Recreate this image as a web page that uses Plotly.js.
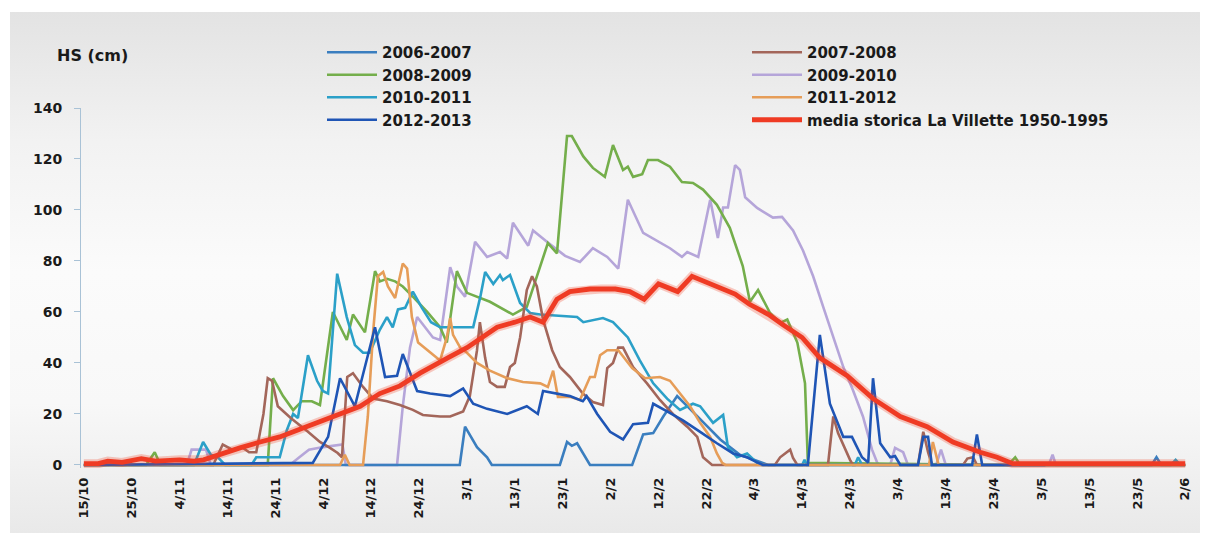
<!DOCTYPE html>
<html>
<head>
<meta charset="utf-8">
<script src="https://cdn.plot.ly/plotly-3.0.1.min.js"></script>
<style>
  html, body { margin: 0; padding: 0; background: #ffffff; }
  #bg { position: absolute; left: 10px; top: 12px; width: 1190px; height: 521px;
        background: linear-gradient(to bottom, #e3e3e3 0%, #f2f2f2 25%, #fbfbfb 50%, #f8f8f8 75%, #e9e9e9 100%); }
  #chart { position: absolute; left: 0; top: 0; width: 1205px; height: 533px; }
</style>
</head>
<body>
<div id="bg"></div>
<div id="chart"></div>
<script>
// x = days since 15 October (season day), y = snow depth HS in cm
const tickLabels = ["15/10","25/10","4/11","14/11","24/11","4/12","14/12","24/12","3/1","13/1","23/1","2/2","12/2","22/2","4/3","14/3","24/3","3/4","13/4","23/4","3/5","13/5","23/5","2/6"];

const days0607 = [0, 78.5, 79.6, 82.1, 84.2, 85.2, 99.4, 100.9, 101.9, 103, 105.7, 114.5, 116.8, 118.9, 121, 123.9, 128.7, 132.9, 137, 141.2, 142.9, 223, 224, 225, 230];
const hs0607   = [0, 0, 15, 7, 3, 0, 0, 9, 7.5, 8.5, 0, 0, 12, 12.5, 19, 27, 18, 10, 4, 1, 0, 0, 3, 0, 0];

const days0708 = [0, 27, 29, 31, 33, 34.5, 36, 37.5, 38.4, 39.3, 40.5, 43.2, 46.8, 49.3, 51.4, 53, 53.9, 55, 56.2, 58.3, 60.4, 63.3, 66, 68.7, 70.8, 74.4, 76.5, 79.2, 80.6, 82.1, 82.7, 83.8, 84.8, 86.3, 87.9, 89, 90, 91.1, 92.5, 93.6, 94.6, 95.9, 97.8, 99.4, 101.5, 104.2, 106.3, 108.4, 109.3, 110.5, 111.6, 112.6, 114.7, 117.6, 120.3, 123, 126, 128.1, 129.3, 130.8, 131.2, 144.3, 145.4, 147.5, 148.1, 149, 155.4, 156.5, 157.5, 160, 160.6, 174.2, 175.3, 176.3, 177.1, 183.6, 184.5, 185.7, 186.5, 230];
const hs0708   = [0, 0, 8, 6, 7, 5, 5, 20, 34, 33, 23, 18.4, 13, 9, 6.7, 4.7, 3, 34.5, 36, 30.6, 26, 25, 23.5, 21.6, 19.6, 19, 19, 21, 27, 45, 56, 42, 32.5, 30.6, 30.6, 38.4, 40, 50, 68.6, 74, 70, 57, 45, 38.4, 34.5, 28, 24.7, 23.5, 38, 40, 46, 46, 38.4, 32, 25.5, 20, 15, 11, 3, 0.8, 0, 0, 3, 6, 2.7, 0, 0, 19, 12.5, 2, 0, 0, 13, 5, 0, 0, 2.5, 3, 0, 0];

const days0809 = [0, 13, 14.8, 16, 38.4, 39.5, 41.6, 43.7, 45.5, 47.6, 49.3, 52, 54.9, 56.2, 58.7, 60.8, 61.8, 63.3, 65, 66.6, 68.7, 71.7, 74.4, 75.8, 77.9, 80, 84.8, 89.6, 92.5, 95.3, 96.9, 98.8, 100.9, 101.9, 104.3, 106.3, 108.8, 110.5, 112.6, 113.6, 114.7, 116.6, 117.8, 119.9, 122.4, 124.9, 127.2, 129.3, 132.2, 134.9, 137.6, 139.1, 140.8, 143.3, 145.4, 146.9, 149, 150.6, 151.2, 193, 194.5, 195.5, 230];
const hs0809   = [0, 0, 5, 0, 0, 34, 27, 21.5, 25, 25, 23.5, 60, 49, 59, 52, 76, 72, 73, 72, 70, 66, 60, 54, 48, 76, 67.5, 64, 59, 62, 78, 87, 83, 129, 129, 121, 116.5, 113, 125.5, 115.7, 117, 113, 114, 119.6, 119.6, 117, 111, 110.6, 108, 102, 93, 78, 64, 68.6, 59.6, 55.7, 57, 48, 32, 0.8, 0, 3, 0, 0];

const days0910 = [0, 21.5, 22.5, 25.5, 26.5, 43, 45, 47, 50, 54, 54.7, 65.4, 66.6, 68.1, 69.6, 71.7, 72.9, 74.4, 76.5, 77.9, 79.6, 81.7, 84.2, 86.9, 88.4, 89.6, 92.8, 93.8, 96.7, 100.5, 103.6, 106.3, 109.3, 111.6, 113.6, 116.8, 119.7, 122.4, 124.9, 126, 128.3, 130.8, 132.4, 133.5, 134.5, 136, 137, 138.1, 140.6, 142.9, 143.9, 145.8, 148.1, 150.2, 152.3, 154.4, 156.5, 158.6, 160.6, 162.7, 164.6, 165.7, 166.2, 168.4, 169.4, 171.1, 172.1, 178, 179, 180, 201.5, 202.3, 203, 230];
const hs0910   = [0, 0, 6, 6, 0, 0, 3, 6, 7, 8, 0, 0, 23, 46, 58, 53, 50, 49, 77.6, 70, 66, 87.5, 81.6, 83.5, 81, 95, 86, 92, 87.5, 82, 79.6, 85, 81.6, 77, 104, 91, 88, 85, 81.6, 83.5, 81.6, 104, 89, 101, 101, 117.6, 115.7, 105, 100.8, 98, 97, 97.3, 92, 84, 74, 62, 50, 38.4, 29.4, 19, 6, 0.8, 0, 0, 6.7, 5, 0, 0, 6, 0, 0, 4, 0, 0];

const days1011 = [0, 23, 24.9, 26.5, 28, 29.5, 35, 36, 40, 40.9, 42.4, 43.7, 44.7, 46.8, 48.7, 49.9, 51, 52.9, 54.9, 56.6, 58.3, 59.7, 61.8, 63.3, 64.5, 65.6, 67.1, 68.7, 70.6, 72.5, 74.4, 81.3, 82.8, 83.8, 85.5, 86.9, 87.5, 89, 91.1, 93.2, 95.3, 103, 104.3, 108.4, 110.5, 113.6, 116.1, 118.9, 121.8, 124.5, 127.2, 128.7, 131.4, 133.5, 134.5, 136.4, 138.5, 140.6, 141.5, 150, 150.5, 151, 161, 161.7, 162.5, 227, 228, 229, 230];
const hs1011   = [0, 0, 9, 4, 3, 0, 0, 3, 3, 3, 13.7, 20, 18.4, 43, 33, 29, 28, 75, 58, 47, 44, 44, 53, 58, 54, 61, 61.6, 68, 61.6, 56, 54, 54, 66, 75.7, 71, 74.5, 72.5, 74.5, 63.5, 59.6, 59, 58, 56, 57.6, 56, 50, 41, 32, 26, 21.6, 24, 23, 16.5, 19.6, 7, 3, 4.5, 0.8, 0, 0, 2, 0, 0, 3, 0, 0, 2, 0, 0];

const days1112 = [0, 53.5, 54.5, 55.5, 58.3, 59.3, 60.4, 61.4, 62.5, 63.5, 65, 66, 66.6, 67.5, 68.5, 69.8, 72.3, 74.4, 75.8, 76.5, 77.1, 78.6, 80, 82.1, 84.8, 88.4, 91.7, 95.3, 96.9, 98, 99, 101.5, 103.6, 105.7, 106.7, 107.8, 109.3, 111.6, 114.5, 117.2, 120.3, 122.4, 124.5, 126.6, 128.7, 130.8, 132.2, 133.3, 134, 176.5, 177.3, 178.5, 230];
const hs1112   = [0, 0, 4, 0, 0, 19, 52, 74, 75.7, 70, 65.5, 74, 79, 77, 58, 48, 44, 41, 50, 57.6, 51, 46, 44, 40, 37, 34, 32.5, 32, 30.6, 37, 26.7, 26.7, 25.5, 34.5, 34.5, 43, 45, 45, 38, 34, 34.5, 33, 28, 23, 16.5, 11, 4.5, 0.8, 0, 0, 9, 0, 0];

const days1213 = [0, 47.8, 51, 53.5, 56.6, 60.8, 62.9, 65.4, 66.6, 69.6, 72.3, 76.5, 79.2, 81.3, 84.2, 88.4, 92.5, 94.8, 95.9, 98.8, 101.5, 104.2, 105, 107.2, 109.9, 112.6, 114.7, 117.8, 118.9, 121.8, 125.1, 128.7, 132.2, 135.6, 138.5, 140.6, 141.8, 151.2, 153.7, 155.8, 158.6, 160.4, 162.5, 163.8, 164.8, 166.3, 168.4, 169.4, 170.5, 174.2, 175.3, 176.3, 177.1, 185.5, 186.5, 187.6, 200.8];
const hs1213   = [0, 0.8, 11, 34, 23, 54, 34.5, 35, 43.5, 29, 28, 27, 30, 24, 22, 20, 23, 20, 29, 28, 27, 25, 27, 20, 13, 10, 16, 16.5, 24, 21, 17.5, 13, 8.5, 4.5, 3, 1, 0, 0, 51, 24, 11, 11, 3, 1, 34, 8.5, 3, 3.5, 0, 0, 11, 11, 0, 0, 12, 0, 0];

const daysMedia = [0, 3, 5, 8, 12, 15, 20, 23, 25, 28, 30, 32.6, 36.8, 40.9, 45.1, 49.3, 53.5, 57.7, 61.8, 66, 70.2, 72.3, 76, 80, 83, 86.3, 90, 93.2, 95.9, 98.8, 101.5, 105.7, 108, 111, 114, 117, 120, 124, 127, 131, 136, 139, 143, 146, 150, 153.7, 159.4, 164.8, 170.5, 176.1, 181.5, 187.2, 190.7, 194, 230];
const hsMedia   = [0.5, 0.5, 1.5, 1, 2.5, 1.5, 2, 1.5, 2, 4, 5, 6.7, 9, 11, 14, 17, 20, 23, 28, 31, 36, 38, 42, 46, 50, 54, 56, 58, 56, 65, 68, 69, 69, 69, 68, 65, 71, 68, 74, 71, 67, 63, 59, 55, 50, 42, 35, 26, 19, 15, 9, 5, 3, 0.5, 0.5];

const FONT = "'DejaVu Sans', Verdana, sans-serif";

function series(name, x, y, color, legend, rank, width) {
  return { type: 'scatter', mode: 'lines', name: name, x: x, y: y,
           line: { color: color, width: width || 2.6, shape: 'linear' },
           legend: legend, legendrank: rank, hoverinfo: 'skip' };
}

const traces = [
  series('2009-2010', days0910, hs0910, '#b5a5d9', 'legend2', 2),
  series('2008-2009', days0809, hs0809, '#74ae4b', 'legend', 2),
  series('2006-2007', days0607, hs0607, '#3a7ebf', 'legend', 1),
  series('2010-2011', days1011, hs1011, '#2ba0c8', 'legend', 3),
  series('2007-2008', days0708, hs0708, '#a3665a', 'legend2', 1),
  series('2011-2012', days1112, hs1112, '#e69d58', 'legend2', 3),
  series('2012-2013', days1213, hs1213, '#1f55b5', 'legend', 4),
  { type: 'scatter', mode: 'lines', x: daysMedia, y: hsMedia, showlegend: false,
    line: { color: 'rgba(240,70,40,0.28)', width: 9 }, hoverinfo: 'skip' },
  series('media storica La Villette 1950-1995', daysMedia, hsMedia, '#ef3b24', 'legend2', 4, 4.8)
];

const legendCommon = {
  orientation: 'v', xref: 'container', yref: 'container', xanchor: 'left', yanchor: 'top',
  bgcolor: 'rgba(0,0,0,0)', borderwidth: 0, itemwidth: 50, tracegroupgap: 0,
  font: { family: FONT, size: 15, color: '#1a1a1a', weight: 700 },
  traceorder: 'normal'
};

const layout = {
  width: 1205, height: 533,
  paper_bgcolor: 'rgba(0,0,0,0)', plot_bgcolor: 'rgba(0,0,0,0)',
  margin: { l: 81, r: 15, t: 108, b: 65, autoexpand: false },
  font: { family: FONT, color: '#1a1a1a' },
  showlegend: true,
  legend: Object.assign({}, legendCommon, { x: 322 / 1205, y: 1 - 36 / 533 }),
  legend2: Object.assign({}, legendCommon, { x: 747 / 1205, y: 1 - 36 / 533 }),
  xaxis: {
    range: [-0.6, 231], tickmode: 'array', automargin: false,
    tickvals: tickLabels.map((_, i) => i * 10), ticktext: tickLabels,
    tickangle: -90, ticks: '', showgrid: false, zeroline: false, showline: false,
    ticklabelstandoff: 6,
    tickfont: { family: FONT, size: 13, color: '#1a1a1a', weight: 700 }
  },
  yaxis: {
    range: [-1.2, 140], tickmode: 'linear', tick0: 0, dtick: 20, automargin: false,
    ticks: 'outside', ticklen: 6, tickcolor: '#a9c2d6', tickwidth: 1,
    showline: true, linecolor: '#a9c2d6', linewidth: 1,
    showgrid: false, zeroline: false, ticklabelstandoff: 9,
    tickfont: { family: FONT, size: 14, color: '#1a1a1a', weight: 700 }
  },
  annotations: [{
    text: 'HS (cm)', xref: 'paper', yref: 'paper', x: (55 - 81) / 1109, y: (468 - 55) / 360,
    xanchor: 'left', yanchor: 'middle', showarrow: false,
    font: { family: FONT, size: 16, color: '#1a1a1a', weight: 700 }
  }]
};

Plotly.newPlot('chart', traces, layout, { staticPlot: true, displayModeBar: false });
</script>
</body>
</html>
